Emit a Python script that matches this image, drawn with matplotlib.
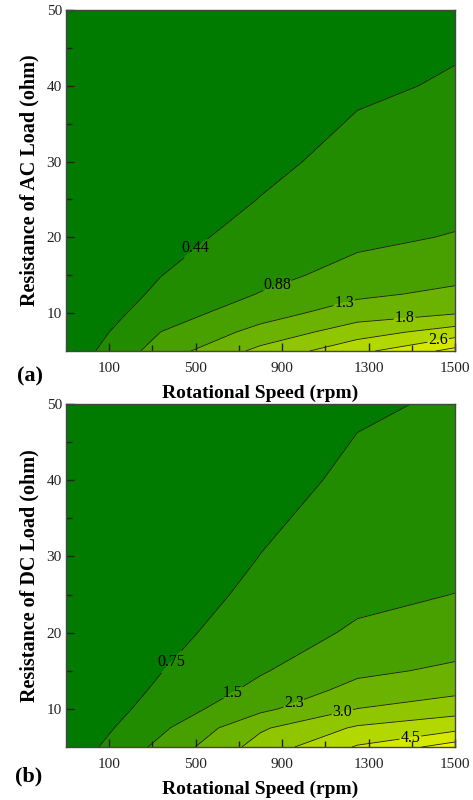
import numpy as np
import matplotlib.pyplot as plt
from matplotlib.colors import ListedColormap, BoundaryNorm

plt.rcParams['font.family'] = ['Liberation Serif', 'DejaVu Serif']

# x grid nodes on the tick axis (tick i -> SPEED_TICKS[i])
SPEED_TICKS = ['100', '500', '900', '1300', '1500']
speed_pos = [-0.5, 0.6, 1.75, 2.87, 4.0]
load_ohm = [5, 7.5, 10, 12.5, 15, 20, 25, 30, 40, 50]

# (a) AC load, rows = load_ohm, cols = speed_pos
ac_vals = [
    [0.15, 1.08, 1.88, 2.51, 3.22],
    [0.07, 0.885, 1.46, 2.00, 2.40],
    [0.05, 0.66, 1.135, 1.54, 1.73],
    [0.04, 0.52, 0.90, 1.237, 1.417],
    [0.033, 0.435, 0.75, 1.03, 1.20],
    [0.025, 0.326, 0.56, 0.78, 0.907],
    [0.02, 0.26, 0.447, 0.629, 0.73],
    [0.017, 0.217, 0.373, 0.527, 0.61],
    [0.013, 0.163, 0.28, 0.398, 0.465],
    [0.01, 0.13, 0.224, 0.319, 0.373],
]
ac_levels = [0.44, 0.88, 1.32, 1.76, 2.2, 2.64, 3.08]
ac_labels = ['0.44', '0.88', '1.3', '1.8', '2.2', '2.6', '3.1']

# (b) DC load
dc_vals = [
    [0.25, 1.70, 3.30, 4.57, 5.60],
    [0.12, 1.36, 2.90, 3.85, 4.27],
    [0.09, 1.047, 2.08, 3.01, 3.44],
    [0.07, 0.86, 1.69, 2.47, 2.80],
    [0.06, 0.733, 1.435, 2.10, 2.38],
    [0.045, 0.55, 1.095, 1.61, 1.84],
    [0.036, 0.44, 0.89, 1.31, 1.51],
    [0.03, 0.366, 0.757, 1.105, 1.28],
    [0.023, 0.275, 0.57, 0.85, 0.98],
    [0.018, 0.22, 0.455, 0.69, 0.80],
]
dc_levels = [0.75, 1.5, 2.25, 3.0, 3.75, 4.5, 5.25]
dc_labels = ['0.75', '1.5', '2.3', '3.0', '3.8', '4.5', '5.3']

BAND_COLORS = ['#007b00', '#228c00', '#47a000', '#6bb300',
               '#90c600', '#b3d800', '#d5e900', '#eef600']

# where the inline labels sit (data coords)
ac_label_at = [(1.01, 18.4), (1.95, 13.5), (2.73, 10.8), (3.42, 8.85), (3.81, 6.1)]
dc_label_at = [(0.70, 16.4), (1.44, 12.0), (2.15, 10.3), (2.71, 8.9), (3.48, 6.5)]


def panel(ax, vals, levels, labels, label_at, ylabel):
    X, Y = np.meshgrid(speed_pos, load_ohm)
    Z = np.array(vals)
    bounds = [-1] + levels + [100]
    cmap = ListedColormap(BAND_COLORS)
    norm = BoundaryNorm(bounds, cmap.N)
    ax.contourf(X, Y, Z, levels=bounds, cmap=cmap, norm=norm)
    cs = ax.contour(X, Y, Z, levels=levels, colors='#1a1a1a', linewidths=0.6)
    fmt = dict(zip(levels, labels))
    txt = ax.clabel(cs, fmt=fmt, manual=label_at, inline=True,
                    inline_spacing=1, fontsize=11.5, colors='black')
    for t in txt:
        t.set_rotation(0)

    ax.set_xlim(-0.5, 4)
    ax.set_ylim(5, 50)
    ax.set_xticks(range(len(SPEED_TICKS)))
    ax.set_xticklabels(SPEED_TICKS)
    ax.set_xticks([0.5, 1.5, 2.5, 3.5], minor=True)
    ax.set_yticks([10, 20, 30, 40, 50])
    ax.set_yticks([15, 25, 35, 45], minor=True)
    ax.tick_params(which='both', direction='in', labelsize=11, colors='#222222')
    ax.tick_params(which='major', length=6, width=1)
    ax.tick_params(which='minor', length=4, width=1)
    ax.tick_params(axis='x', pad=8)
    ax.tick_params(axis='y', pad=3)
    for s in ax.spines.values():
        s.set_color('#444444')
        s.set_linewidth(1)
    ax.set_xlabel('Rotational Speed (rpm)', fontsize=14, fontweight='bold', labelpad=7)
    ax.set_ylabel(ylabel, fontsize=14.5, fontweight='bold', labelpad=5)


fig = plt.figure(figsize=(4.73, 8.0), dpi=100)
ax1 = fig.add_axes([0.1395, 0.56125, 0.8224, 0.42625])
ax2 = fig.add_axes([0.1395, 0.06625, 0.8224, 0.42875])

panel(ax1, ac_vals, ac_levels, ac_labels, ac_label_at, 'Resistance of AC Load (ohm)')
panel(ax2, dc_vals, dc_levels, dc_labels, dc_label_at, 'Resistance of DC Load (ohm)')

fig.text(0.036, 0.529, '(a)', fontsize=16, fontweight='bold', va='center')
fig.text(0.032, 0.029, '(b)', fontsize=16, fontweight='bold', va='center')

fig.savefig('out.png', dpi=100)
